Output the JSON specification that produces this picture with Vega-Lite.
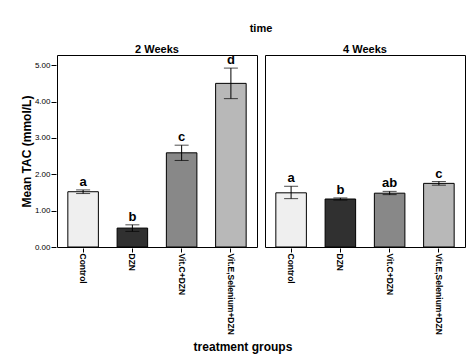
{
  "$schema": "https://vega.github.io/schema/vega-lite/v6.json",
  "padding": {"left": 20, "top": 23, "right": 5, "bottom": 2},
  "data": {"values": [
    {"time": "2 Weeks", "group": "Control", "mean": 1.52, "lo": 1.47, "hi": 1.57, "letter": "a"},
    {"time": "2 Weeks", "group": "DZN", "mean": 0.52, "lo": 0.43, "hi": 0.61, "letter": "b"},
    {"time": "2 Weeks", "group": "Vit.C+DZN", "mean": 2.59, "lo": 2.38, "hi": 2.80, "letter": "c"},
    {"time": "2 Weeks", "group": "Vit.E,Selenium+DZN", "mean": 4.50, "lo": 4.08, "hi": 4.92, "letter": "d"},
    {"time": "4 Weeks", "group": "Control", "mean": 1.49, "lo": 1.33, "hi": 1.67, "letter": "a"},
    {"time": "4 Weeks", "group": "DZN", "mean": 1.32, "lo": 1.29, "hi": 1.35, "letter": "b"},
    {"time": "4 Weeks", "group": "Vit.C+DZN", "mean": 1.48, "lo": 1.44, "hi": 1.53, "letter": "ab"},
    {"time": "4 Weeks", "group": "Vit.E,Selenium+DZN", "mean": 1.75, "lo": 1.70, "hi": 1.80, "letter": "c"}
  ]},
  "facet": {
    "column": {
      "field": "time", "type": "nominal",
      "header": {
        "title": "time", "titleFont": "Liberation Sans", "titleFontSize": 11, "titleFontWeight": "bold", "titleColor": "#000",
        "titlePadding": 0,
        "labelFont": "Liberation Sans", "labelFontSize": 11, "labelFontWeight": "bold", "labelColor": "#000", "labelPadding": -2
      }
    }
  },
  "spacing": 6,
  "title": {"text": "treatment groups", "orient": "bottom", "anchor": "middle", "font": "Liberation Sans", "fontSize": 12, "fontWeight": "bold", "color": "#000", "offset": 8},
  "spec": {
    "width": 200,
    "height": 192,
    "encoding": {
      "x": {
        "field": "group", "type": "nominal",
        "sort": ["Control", "DZN", "Vit.C+DZN", "Vit.E,Selenium+DZN"],
        "scale": {"paddingInner": 0.38, "paddingOuter": 0.22},
        "axis": {"title": null, "labelAngle": 90, "labelFont": "Liberation Sans", "labelFontSize": 8.5, "labelFontWeight": "bold", "labelColor": "#000", "tickColor": "#000", "tickSize": 4, "domain": false, "labelPadding": 1}
      }
    },
    "layer": [
      {
        "mark": {"type": "bar", "stroke": "#000", "strokeWidth": 1},
        "encoding": {
          "y": {
            "field": "mean", "type": "quantitative",
            "scale": {"domain": [0, 5.28], "nice": false},
            "axis": {"title": "Mean TAC (mmol/L)", "values": [0, 1, 2, 3, 4, 5], "format": ".2f", "grid": false, "domain": false, "labelOverlap": false,
              "titleFont": "Liberation Sans", "titleFontSize": 12, "titleFontWeight": "bold", "titleColor": "#000", "titlePadding": 1,
              "labelFont": "Liberation Sans", "labelFontSize": 8, "labelColor": "#000", "tickColor": "#000", "tickSize": 5, "labelPadding": 1}
          },
          "fill": {
            "field": "group", "type": "nominal", "legend": null,
            "scale": {"domain": ["Control", "DZN", "Vit.C+DZN", "Vit.E,Selenium+DZN"], "range": ["#efefef", "#303030", "#888888", "#b8b8b8"]}
          }
        }
      },
      {
        "mark": {"type": "errorbar", "ticks": {"size": 14, "color": "#000"}, "rule": {"color": "#000"}, "color": "#000"},
        "encoding": {
          "y": {"field": "lo", "type": "quantitative",
            "axis": {"title": "Mean TAC (mmol/L)", "values": [0, 1, 2, 3, 4, 5], "format": ".2f", "grid": false, "domain": false, "labelOverlap": false,
              "titleFont": "Liberation Sans", "titleFontSize": 12, "titleFontWeight": "bold", "titleColor": "#000", "titlePadding": 1,
              "labelFont": "Liberation Sans", "labelFontSize": 8, "labelColor": "#000", "tickColor": "#000", "tickSize": 5, "labelPadding": 1}},
          "y2": {"field": "hi"}
        }
      },
      {
        "mark": {"type": "text", "baseline": "bottom", "dy": -1, "font": "Liberation Sans", "fontSize": 13, "fontWeight": "bold", "color": "#000"},
        "encoding": {
          "y": {"field": "hi", "type": "quantitative",
            "axis": {"title": "Mean TAC (mmol/L)", "values": [0, 1, 2, 3, 4, 5], "format": ".2f", "grid": false, "domain": false, "labelOverlap": false,
              "titleFont": "Liberation Sans", "titleFontSize": 12, "titleFontWeight": "bold", "titleColor": "#000", "titlePadding": 1,
              "labelFont": "Liberation Sans", "labelFontSize": 8, "labelColor": "#000", "tickColor": "#000", "tickSize": 5, "labelPadding": 1}},
          "text": {"field": "letter"}
        }
      }
    ]
  },
  "config": {
    "view": {"stroke": "#000", "strokeWidth": 1},
    "background": "#fff"
  }
}
